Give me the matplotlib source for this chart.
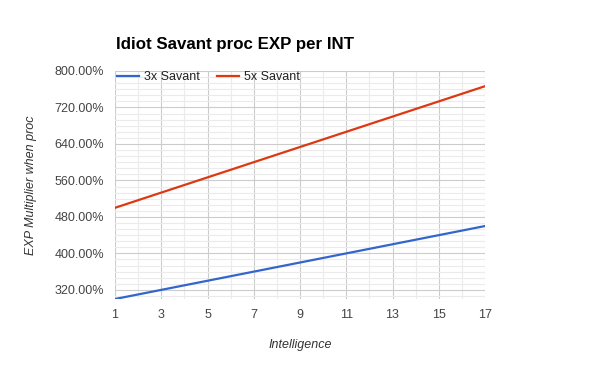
import matplotlib
matplotlib.use("Agg")
import matplotlib.pyplot as plt
from matplotlib.ticker import FuncFormatter, MultipleLocator

plt.rcParams['font.family'] = ['Liberation Sans', 'DejaVu Sans']

intelligence = [1, 2, 3, 4, 5, 6, 7, 8, 9, 10, 11, 12, 13, 14, 15, 16, 17]
savant_3x = [300, 310, 320, 330, 340, 350, 360, 370, 380, 390, 400, 410, 420, 430, 440, 450, 460]
savant_5x = [500, 516.67, 533.33, 550, 566.67, 583.33, 600, 616.67, 633.33, 650, 666.67,
             683.33, 700, 716.67, 733.33, 750, 766.67]
series_names = ["3x Savant", "5x Savant"]
x_ticks = [1, 3, 5, 7, 9, 11, 13, 15, 17]
y_ticks = [320, 400, 480, 560, 640, 720, 800]

fig = plt.figure(figsize=(6, 3.71), dpi=100)
ax = fig.add_axes([115/600, 1-299/371, 370/600, 228/371])

ax.plot(intelligence, savant_3x, color='#3366CC', lw=1.6, label=series_names[0], zorder=3)
ax.plot(intelligence, savant_5x, color='#DC3912', lw=1.6, label=series_names[1], zorder=3)

ax.set_xlim(1, 17)
ax.set_ylim(300, 800)
ax.set_xticks(x_ticks)
ax.set_yticks(y_ticks)
ax.xaxis.set_minor_locator(MultipleLocator(1))
minor_y = [800 - i * 80/6 for i in range(0, 38)]
ax.set_yticks([v for v in minor_y if 300 < v < 800], minor=True)
ax.yaxis.set_major_formatter(FuncFormatter(lambda v, p: f"{v:.2f}%"))

ax.grid(which='major', color='#cccccc', lw=0.8, zorder=0)
ax.grid(which='minor', color='#ebebeb', lw=0.8, zorder=0)
ax.set_axisbelow(True)
for s in ax.spines.values():
    s.set_visible(False)
ax.tick_params(which='both', length=0)
ax.tick_params(axis='x', pad=7, labelsize=9, labelcolor='#444444')
ax.tick_params(axis='y', pad=8, labelsize=9, labelcolor='#444444')

fig.text(300/600, 1-345/371, "Intelligence", fontstyle='italic', fontsize=9,
         color='#333333', ha='center', va='center')
fig.text(31/600, 1-185/371, "EXP Multiplier when proc", fontstyle='italic', fontsize=9,
         color='#333333', ha='center', va='center', rotation=90)

fig.text(116/600, 1-45/371, "Idiot Savant proc EXP per INT", fontsize=12.2, fontweight='bold',
         color='#000000', va='center', ha='left')

leg = ax.legend(loc='upper left', bbox_to_anchor=(-0.008, 1.02), ncol=2, frameon=False,
                fontsize=9, handlelength=1.75, handletextpad=0.4, columnspacing=1.35,
                borderaxespad=0)
for t in leg.get_texts():
    t.set_color('#222222')

fig.savefig("out.png", dpi=100)
